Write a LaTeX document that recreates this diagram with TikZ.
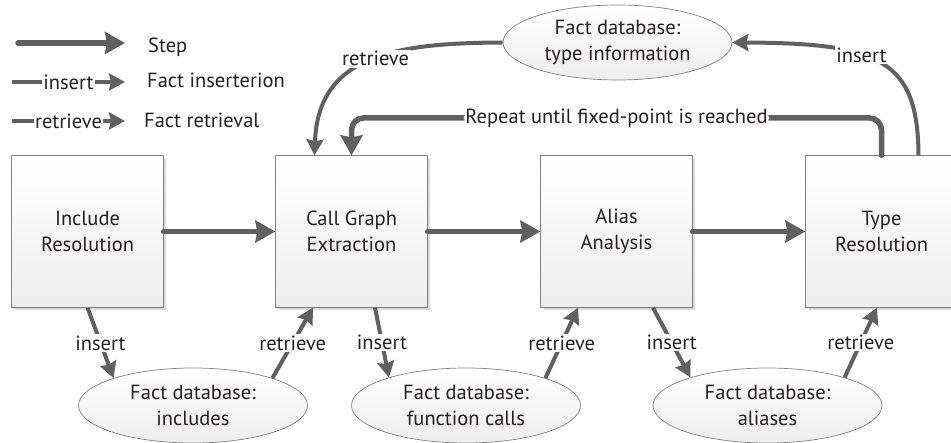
\documentclass[tikz,border=0pt]{standalone}
\usepackage{fontspec}
\setmainfont{PT Sans}
\usetikzlibrary{arrows.meta,shadows,shapes.geometric,calc}
\definecolor{ac}{RGB}{96,96,96}
\definecolor{bd}{RGB}{128,128,128}
\definecolor{tx}{RGB}{35,31,32}
\begin{document}
\begin{tikzpicture}[x=1pt,y=-1pt,
  every node/.style={font=\fontsize{20.5}{26}\selectfont, text=tx},
  box/.style={draw=bd, line width=0.8pt, top color=white, bottom color=gray!14,
    minimum width=151.5pt, minimum height=151.5pt, inner sep=0pt, align=center,
    drop shadow={shadow xshift=3pt, shadow yshift=-3pt, fill=gray!30, opacity=1}},
  db/.style={ellipse, draw=bd, line width=0.7pt, top color=white, bottom color=gray!14,
    minimum width=229pt, minimum height=75pt, inner sep=0pt, align=center},
  stepar/.style={draw=ac, line width=5.5pt, line cap=round,
    -{Stealth[length=20pt,width=22pt,inset=2pt]}},
  factar/.style={draw=ac, line width=4pt,
    -{Stealth[length=16pt,width=17pt,inset=2pt]}},
  lbl/.style={fill=white, inner sep=1.5pt},
  legtxt/.style={anchor=base west, inner sep=0pt}
]
\useasboundingbox (0,0) rectangle (951,443);

% process steps
\node[box] (inc) at (87.5,231.5) {Include\\Resolution};
\node[box] (cg) at (351.5,231.5) {Call Graph\\Extraction};
\node[box] (al) at (616.5,231.5) {Alias\\Analysis};
\node[box] (ty) at (881.5,231.5) {Type\\Resolution};

% fact databases
\node[db] (dinc) at (193,405.5) {Fact database:\\includes};
\node[db] (dfn) at (466,405.5) {Fact database:\\function calls};
\node[db] (dal) at (767.5,405.5) {Fact database:\\aliases};
\node[db] (dty) at (617.5,42.5) {Fact database:\\type information};

% legend
\coordinate (s1) at (18,43); \coordinate (s2) at (125,43);
\coordinate (i1) at (12,82); \coordinate (i2) at (125,82);
\coordinate (t1) at (12,121); \coordinate (t2) at (125,121);
\draw[stepar] (s1) -- (s2);
\draw[factar] (i1) -- node[lbl]{insert} (i2);
\draw[factar] (t1) -- node[lbl]{retrieve} (t2);
\node[legtxt] (ls) at (148,52.5) {Step};
\node[legtxt] (li) at (147,88) {Fact inserterion};
\node[legtxt] (lr) at (144,127.5) {Fact retrieval};

% step arrows
\draw[stepar] (inc.east) -- (cg.west);
\draw[stepar] (cg.east) -- (al.west);
\draw[stepar] (al.east) -- (ty.west);

% repeat loop
\coordinate (r1) at (881.5,118); \coordinate (r2) at (351.5,118);
\draw[stepar, rounded corners=12pt] (ty.north) -- (r1) -- node[lbl]{Repeat until fixed-point is reached} (r2) -- (cg.north);

% type information database
\draw[factar] (dty.west) .. controls (395,43) and (318,55) .. node[lbl,pos=0.47]{retrieve} ([xshift=-37pt]cg.north);
\draw[factar] ([xshift=37pt]ty.north) .. controls (918,60) and (880,43) .. node[lbl,pos=0.6]{insert} (dty.east);

% bottom databases
\draw[factar] (inc.south) -- node[lbl]{insert} (dinc.161);
\draw[factar] (dinc.19) -- node[lbl]{retrieve} ([xshift=-38.5pt]cg.south);
\draw[factar] ([xshift=23.5pt]cg.south) -- node[lbl]{insert} (dfn.160);
\draw[factar] (dfn.19) -- node[lbl]{retrieve} ([xshift=-38.5pt]al.south);
\draw[factar] ([xshift=36.5pt]al.south) -- node[lbl]{insert} (dal.160);
\draw[factar] (dal.20) -- node[lbl]{retrieve} ([xshift=-4.5pt]ty.south);
\end{tikzpicture}
\end{document}
